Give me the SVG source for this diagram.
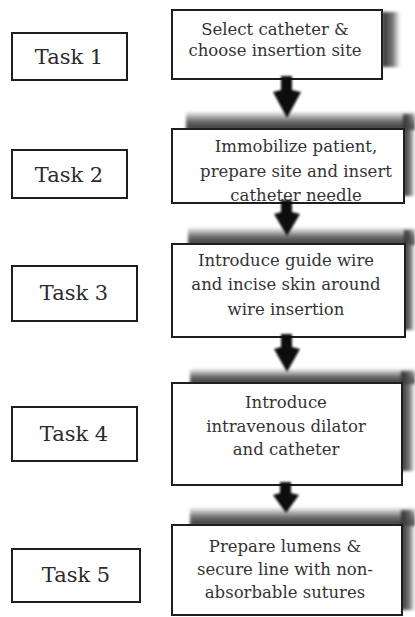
<svg xmlns="http://www.w3.org/2000/svg" width="415" height="617" viewBox="0 0 415 617">
  <defs>
    <style>
      .box { fill: #ffffff; stroke: #1e1e1e; stroke-width: 2; }
      .task { font-family: "DejaVu Serif", "Liberation Serif", serif; font-size: 21px; fill: #2a2a2a; text-anchor: middle; }
      .step { font-family: "DejaVu Serif", "Liberation Serif", serif; font-size: 16.5px; fill: #333333; text-anchor: middle; }
      .arrow { fill: #111111; }
    </style>
    <linearGradient id="shTop" x1="0" y1="0" x2="0" y2="1">
      <stop offset="0" stop-color="#6a6a6a" stop-opacity="0.15"/>
      <stop offset="0.5" stop-color="#4a4a4a" stop-opacity="0.8"/>
      <stop offset="1" stop-color="#333333" stop-opacity="1"/>
    </linearGradient>
    <linearGradient id="shRight" x1="0" y1="0" x2="1" y2="0">
      <stop offset="0" stop-color="#2e2e2e" stop-opacity="1"/>
      <stop offset="0.6" stop-color="#555555" stop-opacity="0.8"/>
      <stop offset="1" stop-color="#888888" stop-opacity="0.1"/>
    </linearGradient>
    <filter id="soft" x="-20%" y="-20%" width="140%" height="140%">
      <feGaussianBlur stdDeviation="1.5"/>
    </filter>
    <filter id="blurA" x="-30%" y="-30%" width="160%" height="160%">
      <feGaussianBlur stdDeviation="1.1"/>
    </filter>
  </defs>

  <rect width="415" height="617" fill="#ffffff"/>

  <!-- shadows -->
  <g id="shadows" filter="url(#soft)">
    <rect x="382" y="12" width="18" height="55" fill="url(#shRight)"/>
    <rect x="186" y="112" width="229" height="18" fill="url(#shTop)"/>
    <rect x="403" y="114" width="12" height="82" fill="url(#shRight)"/>
    <rect x="188" y="228" width="227" height="17" fill="url(#shTop)"/>
    <rect x="404" y="230" width="11" height="100" fill="url(#shRight)"/>
    <rect x="190" y="369" width="225" height="15" fill="url(#shTop)"/>
    <rect x="401" y="371" width="14" height="100" fill="url(#shRight)"/>
    <rect x="190" y="508" width="225" height="18" fill="url(#shTop)"/>
    <rect x="401" y="510" width="14" height="100" fill="url(#shRight)"/>
  </g>

  <!-- task labels -->
  <g id="task1"><rect class="box" x="12" y="33" width="115" height="47"/><text class="task" x="69" y="64">Task 1</text></g>
  <g id="task2"><rect class="box" x="12" y="150" width="115" height="48"/><text class="task" x="69" y="182">Task 2</text></g>
  <g id="task3"><rect class="box" x="12" y="266" width="125" height="55"/><text class="task" x="74" y="300">Task 3</text></g>
  <g id="task4"><rect class="box" x="12" y="407" width="125" height="54"/><text class="task" x="74" y="441">Task 4</text></g>
  <g id="task5"><rect class="box" x="12" y="549" width="128" height="53"/><text class="task" x="76" y="582">Task 5</text></g>

  <!-- step boxes -->
  <g id="step1">
    <rect class="box" x="172" y="10" width="210" height="69"/>
    <text class="step" x="275" y="35">Select catheter &amp;</text>
    <text class="step" x="275" y="56">choose insertion site</text>
  </g>
  <g id="step2">
    <rect class="box" x="172" y="129" width="232" height="74"/>
    <text class="step" x="296" y="152">Immobilize patient,</text>
    <text class="step" x="296" y="177">prepare site and insert</text>
    <text class="step" x="296" y="201">catheter needle</text>
  </g>
  <g id="step3">
    <rect class="box" x="172" y="244" width="233" height="93"/>
    <text class="step" x="286" y="266">Introduce guide wire</text>
    <text class="step" x="286" y="290">and incise skin around</text>
    <text class="step" x="286" y="315">wire insertion</text>
  </g>
  <g id="step4">
    <rect class="box" x="172" y="383" width="230" height="102"/>
    <text class="step" x="286" y="408">Introduce</text>
    <text class="step" x="286" y="432">intravenous dilator</text>
    <text class="step" x="286" y="455">and catheter</text>
  </g>
  <g id="step5">
    <rect class="box" x="172" y="525" width="230" height="90"/>
    <text class="step" x="285" y="552">Prepare lumens &amp;</text>
    <text class="step" x="285" y="575">secure line with non-</text>
    <text class="step" x="285" y="598">absorbable sutures</text>
  </g>

  <!-- connectors -->
  <g id="connectors" filter="url(#blurA)">
    <path class="arrow" d="M281,76 L292,76 L292,90 L301,92 L287,118 L273,92 L281,90 Z"/>
    <path class="arrow" d="M281,200 L292,200 L292,212 L300,214 L287,236 L274,214 L281,212 Z"/>
    <path class="arrow" d="M281,334 L292,334 L292,347 L300,349 L287,372 L274,349 L281,347 Z"/>
    <path class="arrow" d="M280,482 L291,482 L291,493 L299,495 L286,513 L273,495 L280,493 Z"/>
  </g>
</svg>
